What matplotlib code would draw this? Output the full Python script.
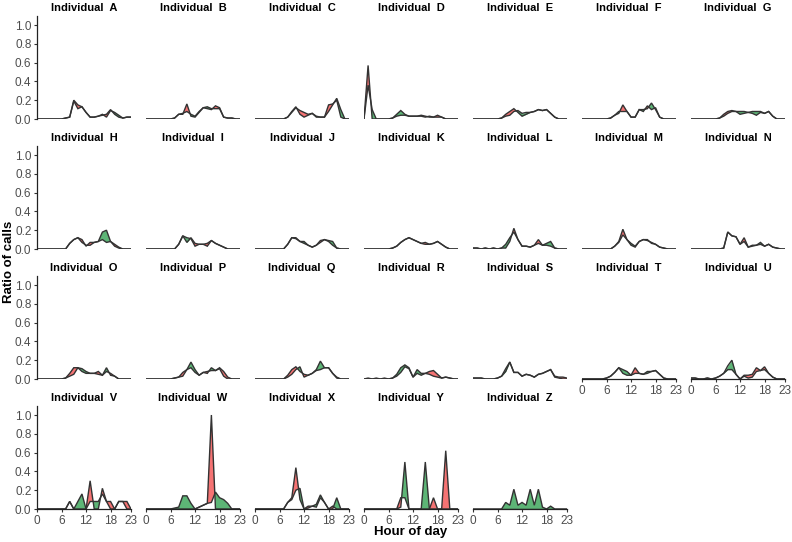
import numpy as np
import matplotlib
matplotlib.use("Agg")
import matplotlib.pyplot as plt

plt.rcParams["font.family"] = ["Liberation Sans", "DejaVu Sans"]

hours = np.arange(24)
hour_ticks = [0, 6, 12, 18, 23]
ratio_ticks = [0.0, 0.2, 0.4, 0.6, 0.8, 1.0]
names = list("ABCDEFGHIJKLMNOPQRSTUVWXYZ")

# two call-ratio profiles per individual (s1 above s2 -> red, s2 above s1 -> green)
s1_A = [0,0,0,0,0,0,0,0.01,0.02,0.20,0.15,0.13,0.07,0.02,0.02,0.03,0.04,0.05,0.10,0.05,0.02,0.01,0.02,0.02]
s2_A = [0,0,0,0,0,0,0,0.01,0.02,0.19,0.11,0.13,0.07,0.02,0.02,0.03,0.05,0.02,0.09,0.07,0.04,0.01,0.02,0.02]
s1_B = [0,0,0,0,0,0,0,0.01,0.05,0.05,0.16,0.03,0.02,0.07,0.12,0.11,0.10,0.14,0.12,0.02,0.01,0.01,0,0]
s2_B = [0,0,0,0,0,0,0,0.01,0.05,0.06,0.08,0.05,0.03,0.08,0.12,0.13,0.11,0.11,0.11,0.02,0.01,0.01,0,0]
s1_C = [0,0,0,0,0,0,0,0,0.02,0.07,0.12,0.09,0.07,0.05,0.06,0.02,0.02,0.02,0.15,0.16,0.20,0.02,0,0]
s2_C = [0,0,0,0,0,0,0,0,0.02,0.08,0.13,0.05,0.02,0.04,0.06,0.03,0.02,0.02,0.08,0.15,0.22,0.10,0,0]
s1_D = [0,0.57,0,0,0,0,0,0.01,0.03,0.04,0.04,0.03,0.03,0.03,0.04,0.03,0.02,0.02,0.04,0.02,0,0,0,0]
s2_D = [0,0.36,0.10,0,0,0,0,0.01,0.05,0.09,0.05,0.03,0.03,0.03,0.03,0.02,0.03,0.02,0.02,0.02,0,0,0,0]
s1_E = [0,0,0,0,0,0,0,0.01,0.05,0.08,0.11,0.07,0.03,0.05,0.07,0.08,0.10,0.09,0.10,0.06,0.02,0,0,0]
s2_E = [0,0,0,0,0,0,0,0.01,0.03,0.04,0.08,0.09,0.06,0.07,0.07,0.08,0.10,0.09,0.10,0.06,0.02,0,0,0]
s1_F = [0,0,0,0,0,0,0,0.01,0.04,0.06,0.15,0.08,0.02,0.02,0.10,0.08,0.14,0.10,0.12,0.02,0,0,0,0]
s2_F = [0,0,0,0,0,0,0,0.01,0.04,0.08,0.08,0.08,0.02,0.02,0.10,0.10,0.11,0.17,0.10,0.02,0,0,0,0]
s1_G = [0,0,0,0,0,0,0,0.01,0.05,0.08,0.09,0.08,0.05,0.06,0.07,0.06,0.04,0.07,0.06,0.08,0.03,0,0,0]
s2_G = [0,0,0,0,0,0,0,0.01,0.03,0.06,0.08,0.08,0.08,0.08,0.07,0.08,0.08,0.08,0.06,0.08,0.03,0,0,0]
s1_H = [0,0,0,0,0,0,0,0,0.06,0.10,0.12,0.10,0.03,0.07,0.07,0.08,0.10,0.07,0.08,0.05,0.02,0,0,0]
s2_H = [0,0,0,0,0,0,0,0,0.06,0.10,0.12,0.07,0.04,0.04,0.07,0.08,0.18,0.20,0.08,0.03,0.01,0,0,0]
s1_I = [0,0,0,0,0,0,0,0,0.05,0.14,0.07,0.12,0.06,0.05,0.05,0.06,0.09,0.06,0.04,0.02,0,0,0,0]
s2_I = [0,0,0,0,0,0,0,0,0.05,0.14,0.12,0.11,0.03,0.05,0.05,0.03,0.09,0.06,0.04,0.02,0,0,0,0]
s1_J = [0,0,0,0,0,0,0,0,0.05,0.12,0.12,0.08,0.06,0.04,0.02,0.04,0.09,0.10,0.08,0.04,0.01,0,0,0]
s2_J = [0,0,0,0,0,0,0,0,0.05,0.12,0.11,0.08,0.08,0.04,0.02,0.04,0.07,0.10,0.09,0.08,0.01,0,0,0]
s1_K = [0,0,0,0,0,0,0,0.01,0.03,0.07,0.10,0.12,0.10,0.08,0.06,0.07,0.05,0.06,0.08,0.05,0.02,0,0,0]
s2_K = [0,0,0,0,0,0,0,0.01,0.03,0.07,0.10,0.12,0.10,0.08,0.06,0.05,0.05,0.06,0.08,0.05,0.02,0,0,0]
s1_L = [0.01,0.01,0,0.01,0,0.01,0,0.01,0.01,0.08,0.22,0.10,0.03,0.03,0.02,0.04,0.10,0.04,0.04,0.03,0.01,0,0,0]
s2_L = [0.01,0.01,0,0.01,0,0.01,0,0.01,0.05,0.12,0.18,0.10,0.03,0.03,0.02,0.04,0.06,0.04,0.06,0.08,0.01,0,0,0]
s1_M = [0,0,0,0,0,0,0,0,0.03,0.08,0.21,0.10,0.04,0.02,0.08,0.10,0.09,0.07,0.05,0.02,0.01,0,0,0]
s2_M = [0,0,0,0,0,0,0,0,0.03,0.07,0.15,0.10,0.06,0.03,0.08,0.10,0.10,0.06,0.05,0.02,0.01,0,0,0]
s1_N = [0,0,0,0,0,0,0,0,0.01,0.18,0.14,0.13,0.05,0.12,0.02,0.03,0.04,0.05,0.03,0.05,0.02,0.01,0,0]
s2_N = [0,0,0,0,0,0,0,0,0.01,0.18,0.14,0.13,0.05,0.08,0.02,0.04,0.04,0.07,0.03,0.05,0.02,0.01,0,0]
s1_O = [0,0,0,0,0,0,0,0.01,0.06,0.12,0.12,0.08,0.06,0.06,0.06,0.08,0.04,0.08,0.06,0.03,0,0,0,0]
s2_O = [0,0,0,0,0,0,0,0.01,0.03,0.05,0.12,0.11,0.08,0.06,0.06,0.05,0.04,0.12,0.04,0.03,0,0,0,0]
s1_P = [0,0,0,0,0,0,0,0.01,0.02,0.07,0.10,0.12,0.07,0.04,0.07,0.08,0.09,0.09,0.12,0.08,0.02,0,0,0]
s2_P = [0,0,0,0,0,0,0,0.01,0.02,0.03,0.10,0.18,0.10,0.04,0.07,0.06,0.12,0.09,0.11,0.03,0,0,0,0]
s1_Q = [0,0,0,0,0,0,0,0,0.04,0.10,0.13,0.08,0.05,0.04,0.06,0.09,0.10,0.12,0.12,0.06,0.02,0,0,0]
s2_Q = [0,0,0,0,0,0,0,0,0.02,0.05,0.10,0.13,0.02,0.04,0.06,0.10,0.19,0.12,0.12,0.06,0.01,0,0,0]
s1_R = [0,0.01,0,0.01,0,0.01,0,0.01,0.03,0.07,0.13,0.11,0.02,0.06,0.04,0.06,0.08,0.09,0.05,0.01,0.02,0.01,0,0]
s2_R = [0,0,0,0,0,0,0,0.01,0.05,0.12,0.15,0.12,0.02,0.10,0.06,0.06,0.05,0.03,0.02,0.01,0.02,0.01,0,0]
s1_S = [0.01,0.01,0.01,0,0,0,0.01,0.03,0.08,0.18,0.07,0.07,0.03,0.05,0.04,0.02,0.05,0.06,0.08,0.10,0.03,0.02,0.02,0.01]
s2_S = [0.01,0.01,0.01,0,0,0,0.01,0.03,0.11,0.18,0.07,0.07,0.03,0.05,0.04,0.02,0.05,0.06,0.08,0.10,0.02,0.01,0,0]
s1_T = [0,0,0,0,0,0,0.01,0.03,0.07,0.12,0.06,0.04,0.04,0.12,0.06,0.05,0.06,0.08,0.09,0.05,0.01,0,0,0]
s2_T = [0,0,0,0,0,0,0.01,0.03,0.07,0.12,0.10,0.08,0.04,0.06,0.06,0.05,0.08,0.08,0.09,0.05,0.01,0,0,0]
s1_U = [0.01,0.01,0,0,0.01,0,0.01,0.03,0.06,0.10,0.10,0.05,0,0.04,0.04,0.05,0.12,0.09,0.13,0.06,0.02,0,0,0]
s2_U = [0.01,0.01,0,0,0.01,0,0.01,0.03,0.06,0.14,0.20,0.05,0,0.03,0.01,0.02,0.08,0.09,0.10,0.06,0.02,0,0,0]
s1_V = [0,0,0,0,0,0,0,0,0.08,0,0,0,0,0.30,0,0,0.22,0.08,0.08,0,0.08,0.08,0.08,0]
s2_V = [0,0,0,0,0,0,0,0,0.08,0,0.08,0.16,0,0.08,0.08,0.08,0.16,0.08,0,0,0.08,0.08,0,0]
s1_W = [0,0,0,0,0,0,0,0,0,0,0,0,0,0.02,0.04,0.06,1.0,0,0,0,0,0,0,0]
s2_W = [0,0,0,0,0,0,0,0.01,0.02,0.14,0.14,0.06,0,0.02,0.04,0.06,0.07,0.18,0.12,0.10,0.06,0,0,0]
s1_X = [0,0,0,0,0,0,0,0,0.07,0.12,0.44,0.10,0,0.03,0.03,0.02,0.12,0.07,0,0.03,0,0,0,0]
s2_X = [0,0,0,0,0,0,0,0,0.07,0.10,0.20,0.22,0,0.01,0.03,0.05,0.15,0.07,0,0,0.12,0,0,0]
s1_Y = [0,0,0,0,0,0,0,0,0,0.12,0.12,0,0,0,0,0,0,0.12,0,0,0.62,0,0,0]
s2_Y = [0,0,0,0,0,0,0,0,0,0.02,0.50,0,0,0,0,0.50,0,0,0,0,0,0,0,0]
s1_Z = [0,0,0,0,0,0,0,0,0,0,0,0,0,0,0,0,0,0,0,0,0,0,0,0]
s2_Z = [0,0,0,0,0,0,0,0,0.07,0.04,0.21,0.04,0.07,0.04,0.21,0.04,0.21,0.02,0,0.03,0,0,0,0]

s1_all = [s1_A, s1_B, s1_C, s1_D, s1_E, s1_F, s1_G, s1_H, s1_I, s1_J, s1_K, s1_L, s1_M,
          s1_N, s1_O, s1_P, s1_Q, s1_R, s1_S, s1_T, s1_U, s1_V, s1_W, s1_X, s1_Y, s1_Z]
s2_all = [s2_A, s2_B, s2_C, s2_D, s2_E, s2_F, s2_G, s2_H, s2_I, s2_J, s2_K, s2_L, s2_M,
          s2_N, s2_O, s2_P, s2_Q, s2_R, s2_S, s2_T, s2_U, s2_V, s2_W, s2_X, s2_Y, s2_Z]

red = "#F57373"
green = "#5DB576"
line_col = "#333333"

W, H = 792, 542
fig = plt.figure(figsize=(W / 100, H / 100), dpi=100)

ncol = 7
pan_w, pan_h = 94, 103.4
col_x0, col_step = 37, 109.0
row_y0 = [119, 249, 379, 509]  # pixel of y=0 for each row

n = len(names)
for k, name in enumerate(names):
    r, c = divmod(k, ncol)
    left = col_x0 + c * col_step
    bottom = row_y0[r]
    ax = fig.add_axes([left / W, 1 - bottom / H, pan_w / W, pan_h / H])
    a = np.array(s1_all[k])
    b = np.array(s2_all[k])
    ax.fill_between(hours, a, b, where=a >= b, interpolate=True, color=red, lw=0)
    ax.fill_between(hours, a, b, where=b > a, interpolate=True, color=green, lw=0)
    ax.plot(hours, a, color=line_col, lw=1.0, solid_joinstyle="miter")
    ax.plot(hours, b, color=line_col, lw=1.0, solid_joinstyle="miter")
    ax.set_xlim(0, 23)
    ax.set_ylim(0, 1.1)
    ax.set_title(f"Individual  {name}", fontsize=8, fontweight="bold", pad=3)
    for s in ["top", "right"]:
        ax.spines[s].set_visible(False)

    has_left = c == 0
    has_bottom = (k + ncol) >= n
    if has_left:
        ax.set_yticks(ratio_ticks)
        ax.set_yticklabels([f"{t:.1f}" for t in ratio_ticks])
        ax.spines["left"].set_color("#222222")
        ax.spines["left"].set_linewidth(0.9)
    else:
        ax.set_yticks([])
        ax.spines["left"].set_visible(False)
    if has_bottom:
        ax.set_xticks(hour_ticks)
        ax.set_xticklabels([str(t) for t in hour_ticks])
        ax.spines["bottom"].set_color("#222222")
        ax.spines["bottom"].set_linewidth(0.9)
    else:
        ax.set_xticks([])
        ax.spines["bottom"].set_visible(False)
    ax.tick_params(length=2.5, width=0.8, color="#333333", labelcolor="#4D4D4D",
                   labelsize=8.5, pad=1.5)

fig.text(9 / W, 1 - 262 / H, "Ratio of calls", rotation=90, ha="center", va="center",
         fontsize=9.5, fontweight="bold")
fig.text(411 / W, 1 - 532 / H, "Hour of day", ha="center", va="center",
         fontsize=9.5, fontweight="bold")

fig.savefig("out.png", dpi=100)
